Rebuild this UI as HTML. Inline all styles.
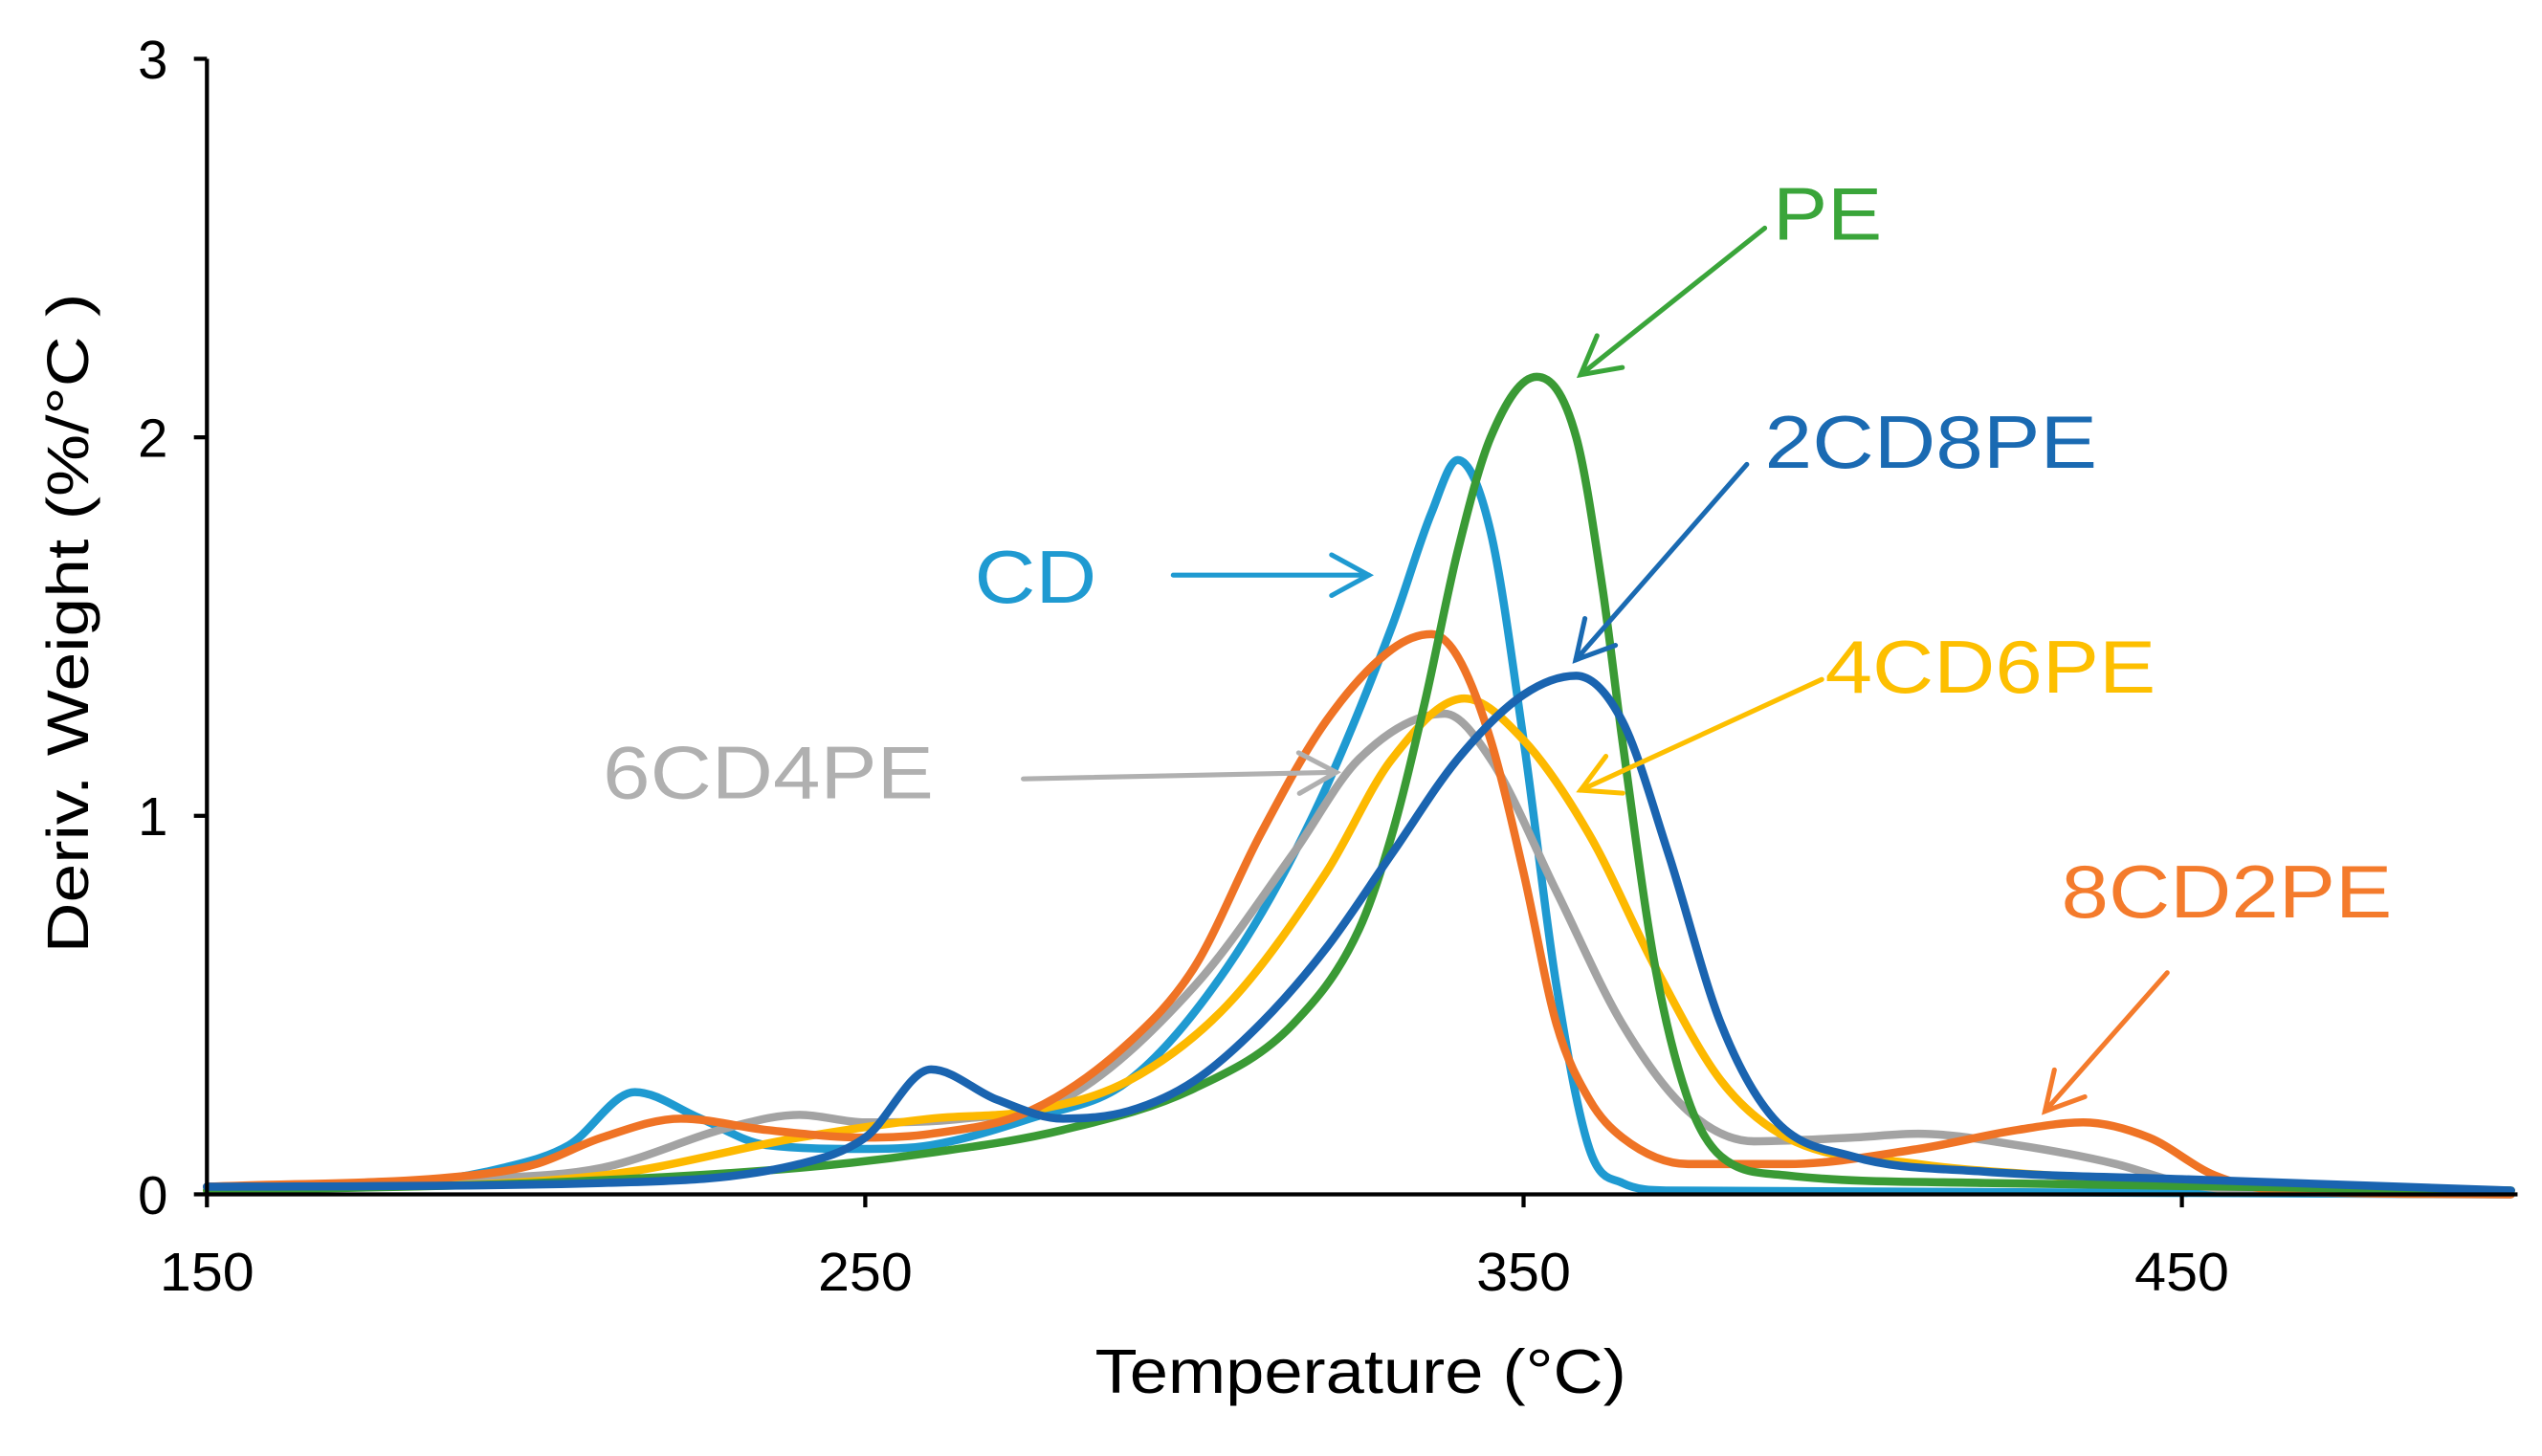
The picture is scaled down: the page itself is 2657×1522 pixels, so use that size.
<!DOCTYPE html>
<html><head><meta charset="utf-8"><style>
html,body{margin:0;padding:0;background:#fff;}
svg{display:block;font-family:"Liberation Sans",Arial,sans-serif;}
</style></head><body>
<svg id="chart" width="2657" height="1522" viewBox="0 0 1560 893.6" xmlns="http://www.w3.org/2000/svg">
<rect width="1560" height="893.6" fill="#fff"/>
<g id="plot"></g>
<g id="axes"></g>
<g id="annot"></g>
</svg>
<script>
const xTicks = [150, 250, 350, 450];
const yTicks = [0, 1, 2, 3];

const cdTemps = [150,180,195,205,215,225,235,250,260,275,290,305,318,330,336,340,345,350,355,360,365,372,500];
const cdVals  = [0.02,0.03,0.07,0.13,0.27,0.2,0.13,0.12,0.13,0.2,0.3,0.6,1.0,1.5,1.8,1.94,1.75,1.2,0.55,0.12,0.03,0.01,0.0];

const pe82Temps = [150,190,200,210,222,235,250,260,275,290,300,310,320,330,336,340,345,350,355,360,365,375,390,410,425,435,445,455,465,500];
const pe82Vals  = [0.02,0.05,0.08,0.15,0.2,0.17,0.15,0.16,0.22,0.4,0.6,0.95,1.25,1.44,1.48,1.42,1.2,0.85,0.45,0.25,0.15,0.08,0.08,0.12,0.17,0.19,0.15,0.05,0.01,0.0];

const pe64Temps = [150,190,210,230,240,250,265,280,300,315,325,338,345,355,365,375,385,400,410,425,440,450,460,500];
const pe64Vals  = [0.02,0.04,0.07,0.18,0.21,0.19,0.2,0.25,0.55,0.9,1.15,1.27,1.15,0.8,0.45,0.22,0.14,0.15,0.16,0.13,0.08,0.03,0.01,0.0];

const pe46Temps = [150,210,240,260,275,290,305,320,330,341,350,360,370,380,390,410,430,450,500];
const pe46Vals  = [0.01,0.05,0.15,0.2,0.22,0.3,0.5,0.85,1.15,1.31,1.2,0.95,0.6,0.3,0.15,0.08,0.05,0.03,0.01];

const pe28Temps = [150,210,240,250,260,270,280,290,300,310,320,330,340,350,358,365,372,380,388,400,420,450,500];
const pe28Vals  = [0.02,0.03,0.08,0.15,0.33,0.25,0.2,0.22,0.3,0.45,0.65,0.9,1.15,1.32,1.37,1.25,0.9,0.45,0.2,0.1,0.06,0.04,0.01];

const peTemps = [150,200,240,260,280,300,315,325,330,335,340,345,352,358,362,365,370,375,380,390,420,500];
const peVals  = [0.01,0.03,0.07,0.11,0.17,0.28,0.45,0.7,0.95,1.3,1.7,2.0,2.16,2.0,1.6,1.2,0.6,0.25,0.1,0.05,0.03,0.01];

const X0=127, PX_PER_C=4.04, Y0=733, PX_PER_U=232.3;
function sx(t){return X0+(t-150)*PX_PER_C;}
function sy(v){return Y0-v*PX_PER_U;}
const NS="http://www.w3.org/2000/svg";
function mk(tag,attrs,parent){const e=document.createElementNS(NS,tag);for(const k in attrs)e.setAttribute(k,attrs[k]);parent.appendChild(e);return e;}

function monotonePath(xs,ys){
  const n=xs.length;const d=[],m=new Array(n);
  for(let i=0;i<n-1;i++)d.push((ys[i+1]-ys[i])/(xs[i+1]-xs[i]));
  m[0]=d[0];m[n-1]=d[n-2];
  for(let i=1;i<n-1;i++){m[i]=(d[i-1]*d[i]<=0)?0:(d[i-1]+d[i])/2;}
  for(let i=0;i<n-1;i++){if(d[i]===0){m[i]=0;m[i+1]=0;continue;}const a=m[i]/d[i],b=m[i+1]/d[i],s=a*a+b*b;if(s>9){const t=3/Math.sqrt(s);m[i]=t*a*d[i];m[i+1]=t*b*d[i];}}
  let p="M"+xs[0]+","+ys[0];
  for(let i=0;i<n-1;i++){const h=(xs[i+1]-xs[i])/3;p+=" C"+(xs[i]+h)+","+(ys[i]+m[i]*h)+" "+(xs[i+1]-h)+","+(ys[i+1]-m[i+1]*h)+" "+xs[i+1]+","+ys[i+1];}
  return p;
}
const plot=document.getElementById('plot');
function series(temps,vals,color,name){
  const xs=temps.map(sx),ys=vals.map(sy);
  const p=mk('path',{d:monotonePath(xs,ys),fill:'none',stroke:color,'stroke-width':5,'stroke-linejoin':'round','stroke-linecap':'round'},plot);
  
  
}
series(cdTemps,cdVals,'#1f9ad1','series-cd');
series(pe64Temps,pe64Vals,'#a3a3a3','series-6cd4pe');
series(pe46Temps,pe46Vals,'#fdb900','series-4cd6pe');
series(pe82Temps,pe82Vals,'#ef7325','series-8cd2pe');
series(peTemps,peVals,'#3a9a35','series-pe');
series(pe28Temps,pe28Vals,'#1a64b0','series-2cd8pe');

const axes=document.getElementById('axes');
let l=mk('line',{x1:X0,y1:sy(3),x2:X0,y2:Y0,stroke:'#000','stroke-width':2.5},axes);


l=mk('line',{x1:X0,y1:Y0,x2:1545,y2:Y0,stroke:'#000','stroke-width':2.5},axes);


yTicks.forEach(v=>{
  const t=mk('line',{x1:X0-8,y1:sy(v),x2:X0,y2:sy(v),stroke:'#000','stroke-width':2.5},axes);
  
  
  const tx=mk('text',{x:X0-24,y:sy(v)+12,'text-anchor':'end','font-size':33,fill:'#000'},axes);
  tx.textContent=v;
  
  
});
xTicks.forEach(v=>{
  const t=mk('line',{x1:sx(v),y1:Y0,x2:sx(v),y2:Y0+8,stroke:'#000','stroke-width':2.5},axes);
  
  
  const tx=mk('text',{x:sx(v),y:792,'text-anchor':'middle','font-size':33,fill:'#000',textLength:58,lengthAdjust:'spacingAndGlyphs'},axes);
  tx.textContent=v;
  
  
});
let tt=mk('text',{x:672,y:855,'font-size':38,fill:'#000',textLength:326,lengthAdjust:'spacingAndGlyphs'},axes);
tt.textContent='Temperature  (°C)';


tt=mk('text',{x:0,y:0,'font-size':36,fill:'#000',transform:'translate(54,585) rotate(-90)',textLength:405,lengthAdjust:'spacingAndGlyphs'},axes);
tt.textContent='Deriv.  Weight  (%/°C )';



const annot=document.getElementById('annot');
function label(txt,x,y,w,color,name,ax1,ay1,ax2,ay2){
  const t=mk('text',{x:x,y:y,'font-size':46,fill:color,textLength:w,lengthAdjust:'spacingAndGlyphs'},annot);
  t.textContent=txt;
  
  
  const g=mk('g',{stroke:color,'stroke-width':3,fill:'none','stroke-linecap':'round'},annot);
  
  
  mk('line',{x1:ax1,y1:ay1,x2:ax2,y2:ay2},g);
  const a=Math.atan2(ay2-ay1,ax2-ax1),L=26,s=0.5;
  mk('polyline',{points:`${ax2-L*Math.cos(a-s)},${ay2-L*Math.sin(a-s)} ${ax2},${ay2} ${ax2-L*Math.cos(a+s)},${ay2-L*Math.sin(a+s)}`},g);
}
label('PE',1088,147,67,'#3aa53a','pe',1083,140,970,230);
label('2CD8PE',1083,287,204,'#1a6ab2','2cd8pe',1072,285,967,405);
label('CD',598,370,75,'#1f9ad1','cd',720,353,840,353);
label('4CD6PE',1120,425,203,'#fdbf00','4cd6pe',1118,417,970,485);
label('6CD4PE',370,490,203,'#b0b0b0','6cd4pe',628,478,820,474);
label('8CD2PE',1265,563,203,'#f47b2c','8cd2pe',1330,597,1255,682);
</script>
</body></html>
